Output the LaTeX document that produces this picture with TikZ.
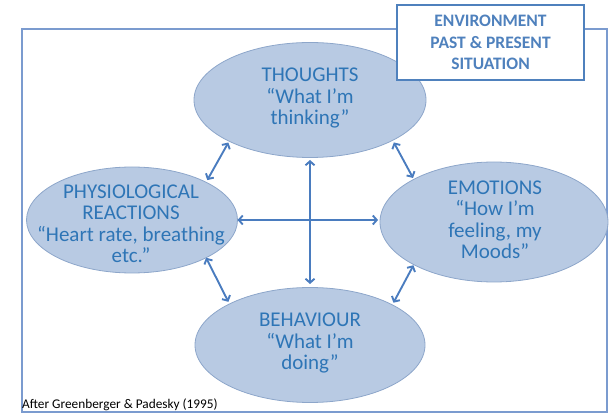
\documentclass[tikz,border=0pt]{standalone}
\usepackage{fontspec}
\setmainfont{Carlito}
\usetikzlibrary{arrows.meta,shapes.geometric}
\definecolor{ellfill}{HTML}{B8CAE3}
\definecolor{elldraw}{HTML}{8DA6CA}
\definecolor{txtblue}{HTML}{2E75B6}
\definecolor{arrblue}{HTML}{4A7CBF}
\definecolor{frameblue}{HTML}{7B9BCF}
\definecolor{envblue}{HTML}{4F81BD}
\begin{document}
\begin{tikzpicture}[x=1pt,y=-1pt,
  bubble/.style={ellipse, fill=ellfill, draw=elldraw, line width=0.8pt, inner sep=0pt, outer sep=0pt},
  bubbletext/.style={inner sep=0pt, align=center, text=txtblue, font=\fontsize{21}{21.5}\selectfont},
  link/.style={draw=arrblue, line width=1.9pt,
    {Straight Barb[length=4pt,width=9pt]}-{Straight Barb[length=4pt,width=9pt]}},
  framebox/.style={draw=frameblue, line width=1.5pt, inner sep=0pt, outer sep=0pt},
  envbox/.style={draw=envblue, line width=1.5pt, fill=white, inner sep=0pt, align=center,
    text=envblue, font=\bfseries\fontsize{17.5}{21.7}\selectfont}
]
\useasboundingbox (0,0) rectangle (611,414);
\node[framebox, minimum width=585pt, minimum height=383pt] (frame) at (314.5,220.5) {};

\node[bubble, minimum width=232pt, minimum height=115pt] (th) at (310,100) {};
\node[bubble, minimum width=211pt, minimum height=106pt] (ph) at (132,220) {};
\node[bubble, minimum width=228pt, minimum height=120pt] (em) at (494,222) {};
\node[bubble, minimum width=230pt, minimum height=115pt] (be) at (310,345) {};

\node[bubbletext] (thtext) at (310,98) {THOUGHTS\\“What I’m\\thinking”};
\node[bubbletext] (phtext) at (131,224) {PHYSIOLOGICAL\\REACTIONS\\“Heart rate, breathing\\etc.”};
\node[bubbletext] (emtext) at (495,220) {EMOTIONS\\“How I’m\\feeling, my\\Moods”};
\node[bubbletext] (betext) at (310,343) {BEHAVIOUR\\“What I’m\\doing”};

\draw[link, shorten <=1.5pt, shorten >=2.5pt] (th.-153.4) -- (ph.27.1);
\draw[link, shorten <=2.4pt, shorten >=1.6pt] (th.-26.8) -- (em.152);
\draw[link, shorten >=2.4pt] (ph.-27) -- (be.153.2);
\draw[link, shorten <=0.7pt, shorten >=2.4pt] (em.-152.3) -- (be.26.8);
\draw[link, shorten <=2.5pt, shorten >=3.5pt] (th.-90) -- (be.90);
\draw[link, shorten >=2pt] (ph.0) -- (em.179);

\node[envbox, minimum width=187pt, minimum height=75pt] (env) at (490.5,42.5) {ENVIRONMENT\\PAST \& PRESENT\\SITUATION};

\node[anchor=base west, inner sep=0pt, font=\fontsize{13.3}{15}\selectfont] (cite) at (22,408) {After Greenberger \& Padesky (1995)};
\end{tikzpicture}
\end{document}
